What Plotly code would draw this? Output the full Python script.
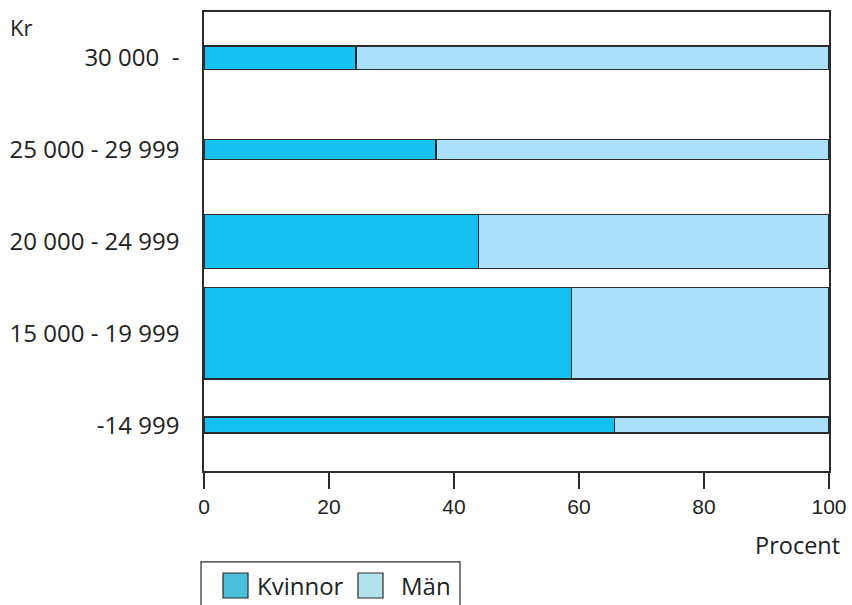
import plotly.graph_objects as go

# Data (bottom to top)
categories = ["-14 999", "15 000 - 19 999", "20 000 - 24 999", "25 000 - 29 999", "30 000\u00a0\u00a0-"]
kvinnor_pct = [65.7, 58.8, 43.9, 37.1, 24.3]
man_pct = [34.3, 41.2, 56.1, 62.9, 75.7]
relative_size = [0.174, 1.0, 0.59, 0.218, 0.255]  # bar thickness ~ number of employees
x_ticks = [0, 20, 40, 60, 80, 100]

C_K = "#15c1f1"
C_M = "#abe0fa"
LINE = "#2b2b2b"
FONT_L = "Open Sans"
FONT_T = "Liberation Sans"

fig = go.Figure()
fig.add_trace(go.Bar(y=categories, x=kvinnor_pct, width=relative_size, orientation="h",
                     name="Kvinnor", marker=dict(color=C_K, line=dict(color=LINE, width=1.5)),
                     showlegend=False))
fig.add_trace(go.Bar(y=categories, x=man_pct, width=relative_size, orientation="h",
                     name="Män", marker=dict(color=C_M, line=dict(color=LINE, width=1.5)),
                     showlegend=False))

fig.update_layout(
    barmode="stack",
    width=852, height=605,
    margin=dict(l=204, r=23, t=12, b=134),
    paper_bgcolor="white", plot_bgcolor="white",
    xaxis=dict(range=[0, 100], tickvals=x_ticks, ticks="outside", ticklen=16, tickwidth=1.5,
               tickcolor=LINE, showline=True, linecolor=LINE, linewidth=1.5, mirror=True,
               showgrid=False, zeroline=False, automargin=False,
               tickfont=dict(family=FONT_T, size=21, color="#222")),
    yaxis=dict(type="category", categoryorder="array", categoryarray=categories,
               range=[-0.5, 4.5], showline=True, linecolor=LINE, linewidth=1.5, mirror=True,
               showgrid=False, zeroline=False, ticks="", ticklabelstandoff=18, automargin=False,
               tickfont=dict(family=FONT_L, size=24, color="#222")),
)

# Axis captions
fig.add_annotation(text="Kr", xref="paper", yref="paper", x=-0.3136, y=0.967,
                   xanchor="left", yanchor="middle", showarrow=False,
                   font=dict(family=FONT_L, size=22, color="#222"))
fig.add_annotation(text="Procent", xref="paper", yref="paper", x=1.0208, y=-0.161,
                   xanchor="right", yanchor="middle", showarrow=False,
                   font=dict(family=FONT_L, size=23.5, color="#222"))

# Custom legend box
fig.add_shape(type="rect", xref="paper", yref="paper", x0=-0.0048, x1=0.4096, y0=-0.31, y1=-0.198,
              line=dict(color=LINE, width=1.2), fillcolor="rgba(0,0,0,0)")
legend_items = [("Kvinnor", "#4bbed9", 0.0304, 0.0816), ("Män", "#b3e3ef", 0.2464, 0.312)]
for label, col, sx, tx in legend_items:
    fig.add_shape(type="rect", xref="paper", yref="paper", x0=sx, x1=sx + 0.04,
                  y0=-0.2767, y1=-0.2222, line=dict(color=LINE, width=1.2), fillcolor=col)
    fig.add_annotation(text=label, xref="paper", yref="paper", x=tx, y=-0.2505,
                       xanchor="left", yanchor="middle", showarrow=False,
                       font=dict(family=FONT_L, size=24, color="#222"))

fig.write_html("out.html", config={"displayModeBar": False},
               post_script="document.body.style.margin='0';document.body.style.overflow='hidden';")
